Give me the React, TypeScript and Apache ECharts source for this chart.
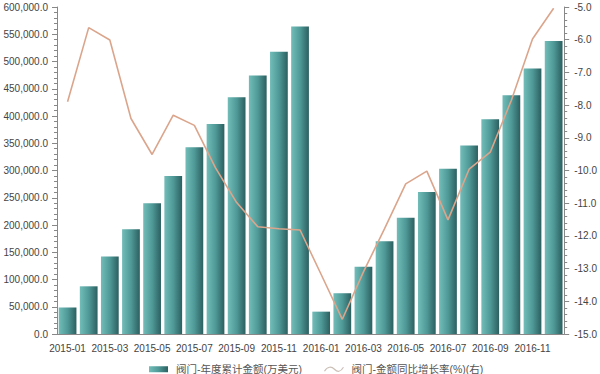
import React, { useEffect, useRef } from "react";
import * as echarts from "echarts";

const categories = [
  "2015-01", "2015-02", "2015-03", "2015-04", "2015-05", "2015-06",
  "2015-07", "2015-08", "2015-09", "2015-10", "2015-11", "2015-12",
  "2016-01", "2016-02", "2016-03", "2016-04", "2016-05", "2016-06",
  "2016-07", "2016-08", "2016-09", "2016-10", "2016-11", "2016-12",
];

const cumulativeAmount = [
  48500, 87500, 142000, 192000, 240000, 290000,
  342500, 385500, 434500, 474500, 518000, 564000,
  41000, 74800, 123500, 170000, 213500, 260500,
  303000, 346000, 394000, 438000, 487000, 537500,
];

const growthRate = [
  -7.9, -5.63, -6.01, -8.41, -9.51, -8.31,
  -8.62, -9.92, -10.98, -11.72, -11.78, -11.82,
  -13.18, -14.55, -13.1, -11.78, -10.41, -10.02,
  -11.51, -9.96, -9.44, -7.85, -5.98, -5.04,
];

const seriesNames = ["阀门-年度累计金额(万美元)", "阀门-金额同比增长率(%)(右)"];

export default function App() {
  const ref = useRef<HTMLDivElement>(null);
  useEffect(() => {
    if (!ref.current) return;
    const chart = echarts.init(ref.current, undefined, { renderer: "svg" });
    const axisColor = "#888";
    const labelColor = "#444";
    const font = "Arial, 'Liberation Sans', 'Noto Sans CJK SC', sans-serif";
    chart.setOption({
      animation: false,
      backgroundColor: "#fff",
      textStyle: { fontFamily: font },
      grid: { left: 57, right: 35, top: 7, bottom: 40, containLabel: false },
      legend: {
        top: 359,
        left: 144,
        itemGap: 20,
        itemWidth: 19,
        itemHeight: 6,
        textStyle: { color: "#555", fontSize: 10.5, fontFamily: font, padding: [0, 0, 0, 3] },
        data: [
          { name: seriesNames[0], icon: "rect" },
          {
            name: seriesNames[1],
            icon: "path://M0,5 C3,0 7,0 10,3 C13,6 16,6 19,1",
            itemStyle: { color: "none", borderColor: "#cbbfb7", borderWidth: 1.2 },
          },
        ],
      },
      xAxis: {
        type: "category",
        data: categories,
        boundaryGap: true,
        axisLine: { lineStyle: { color: axisColor } },
        axisTick: { alignWithLabel: true, interval: 0, length: 4, lineStyle: { color: axisColor } },
        axisLabel: { interval: 1, color: labelColor, fontSize: 10, margin: 9 },
      },
      yAxis: [
        {
          type: "value",
          min: 0,
          max: 600000,
          interval: 50000,
          splitLine: { show: false },
          axisLine: { show: true, lineStyle: { color: axisColor } },
          axisTick: { show: true, length: 5, lineStyle: { color: axisColor } },
          minorTick: { show: true, splitNumber: 5, length: 3, lineStyle: { color: axisColor } },
          axisLabel: {
            color: labelColor,
            fontSize: 10,
            margin: 9,
            formatter: (v: number) =>
              v.toLocaleString("en-US", { minimumFractionDigits: 1, maximumFractionDigits: 1 }),
          },
        },
        {
          type: "value",
          min: -15,
          max: -5,
          interval: 1,
          position: "right",
          splitLine: { show: false },
          axisLine: { show: true, lineStyle: { color: axisColor } },
          axisTick: { show: true, length: 5, lineStyle: { color: axisColor } },
          minorTick: { show: true, splitNumber: 5, length: 3, lineStyle: { color: axisColor } },
          axisLabel: {
            color: labelColor,
            fontSize: 10,
            margin: 10,
            formatter: (v: number) => v.toFixed(1),
          },
        },
      ],
      series: [
        {
          name: seriesNames[0],
          type: "bar",
          data: cumulativeAmount,
          barCategoryGap: "16%",
          itemStyle: {
            color: new echarts.graphic.LinearGradient(0, 0, 1, 0, [
              { offset: 0, color: "#72bcb9" },
              { offset: 0.5, color: "#4f9a98" },
              { offset: 1, color: "#2c5f60" },
            ]),
          },
        },
        {
          name: seriesNames[1],
          type: "line",
          yAxisIndex: 1,
          data: growthRate,
          showSymbol: false,
          symbol: "none",
          lineStyle: { color: "#dba58c", width: 1.6 },
          itemStyle: { color: "#dba58c" },
        },
      ],
    });
    return () => chart.dispose();
  }, []);
  return (
    <div
      ref={ref}
      style={{ width: 600, height: 374, position: "absolute", left: 0, top: 0 }}
    />
  );
}
